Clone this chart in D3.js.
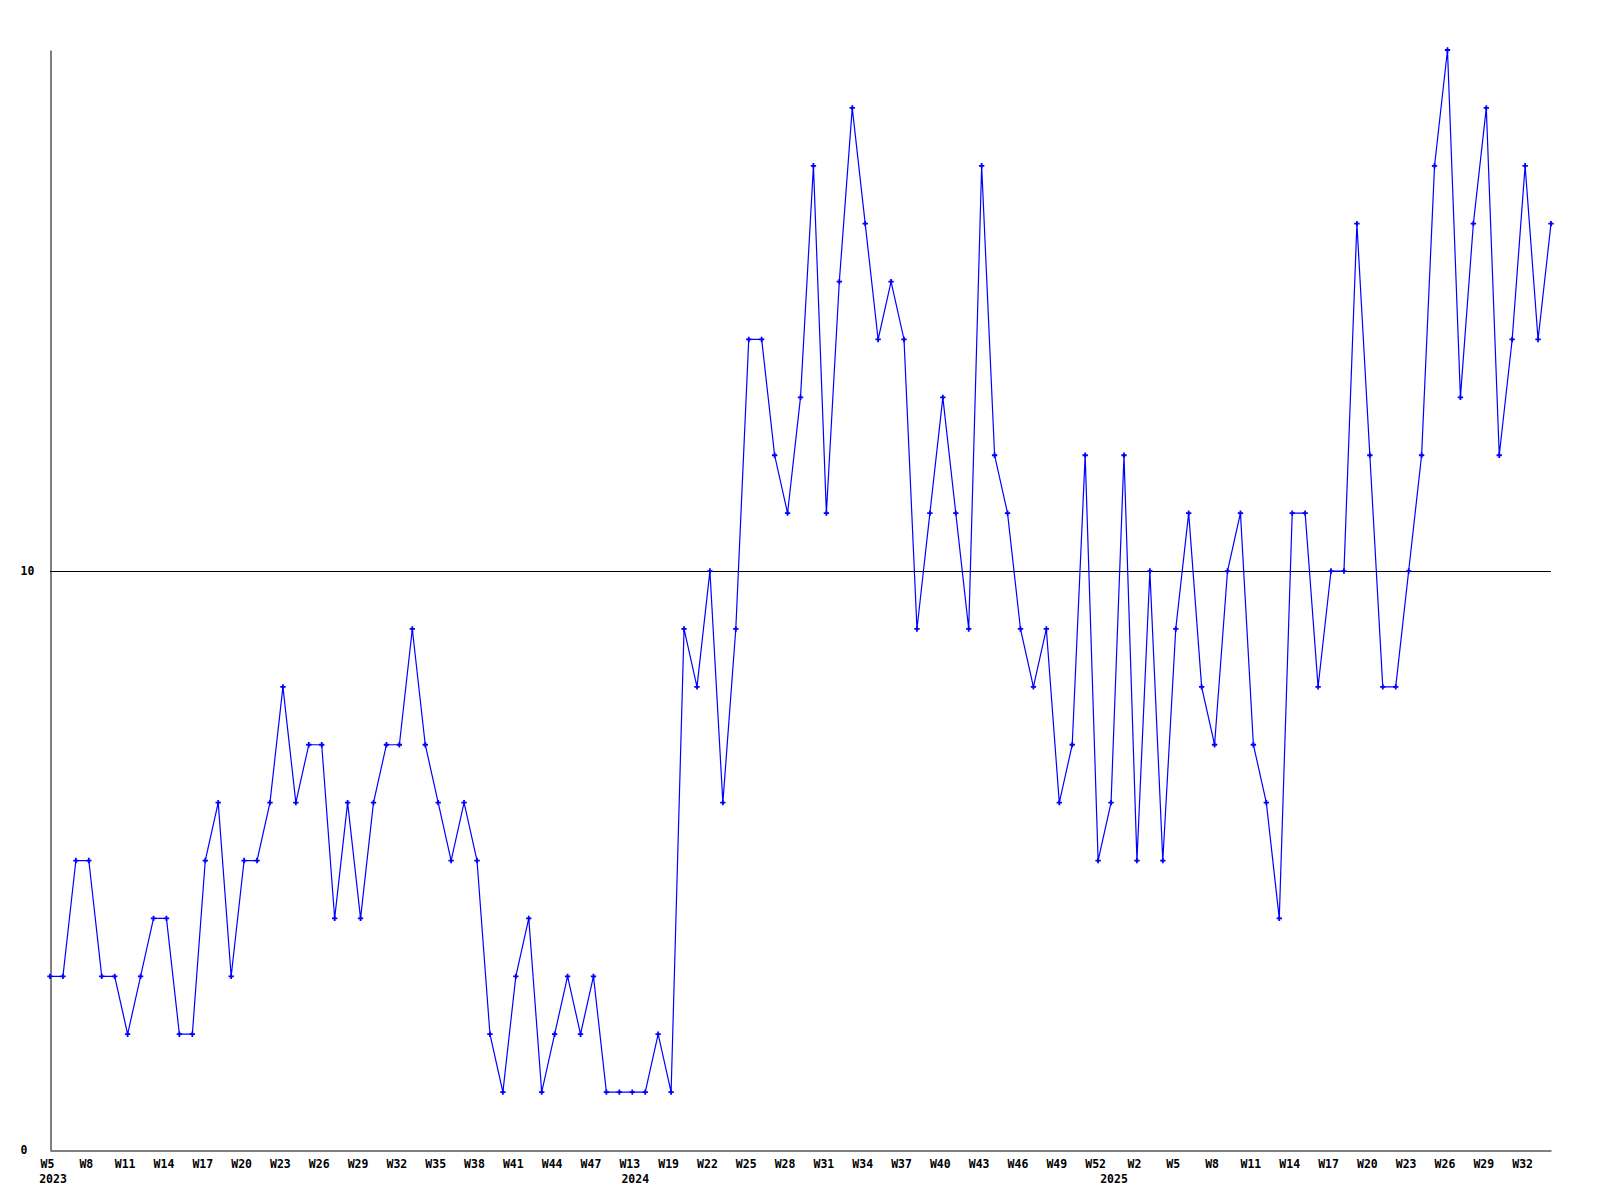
<!DOCTYPE html>
<html>
<head>
<meta charset="utf-8">
<script src="https://cdn.jsdelivr.net/npm/d3@7"></script>
<style>
  html, body { margin: 0; padding: 0; background: #ffffff; }
  svg { display: block; }
  text { font-family: "DejaVu Sans Mono", "Liberation Mono", monospace; font-weight: bold; font-size: 11.5px; fill: #000; }
</style>
</head>
<body>
<svg id="chart" width="1600" height="1200"></svg>
<script>
// ---- data (one value per week) ----
const values = [
  3, 3, 5, 5, 3, 3, 2, 3, 4, 4,
  2, 2, 5, 6, 3, 5, 5, 6, 8, 6,
  7, 7, 4, 6, 4, 6, 7, 7, 9, 7,
  6, 5, 6, 5, 2, 1, 3, 4, 1, 2,
  3, 2, 3, 1, 1, 1, 1, 2, 1, 9,
  8, 10, 6, 9, 14, 14, 12, 11, 13, 17,
  11, 15, 18, 16, 14, 15, 14, 9, 11, 13,
  11, 9, 17, 12, 11, 9, 8, 9, 6, 7,
  12, 5, 6, 12, 5, 10, 5, 9, 11, 8,
  7, 10, 11, 7, 6, 4, 11, 11, 8, 10,
  10, 16, 12, 8, 8, 10, 12, 17, 19, 13,
  16, 18, 12, 14, 17, 14, 16
];
// week tick labels, one every third point
const weekLabels = [
  "W5", "W8", "W11", "W14", "W17", "W20", "W23", "W26", "W29", "W32",
  "W35", "W38", "W41", "W44", "W47", "W13", "W19", "W22", "W25", "W28",
  "W31", "W34", "W37", "W40", "W43", "W46", "W49", "W52", "W2", "W5",
  "W8", "W11", "W14", "W17", "W20", "W23", "W26", "W29", "W32"
];
const labelStep = 3;
// year labels and the point index at which each year starts
const yearLabels = ["2023", "2024", "2025"];
const yearStart = [0, 45, 82];
// y axis
const yTicks = [0, 10];
const refLine = [10];
const yMax = 19;

// ---- layout ----
const plotLeft = 50, plotRight = 1551, plotTop = 50, plotBottom = 1150;
const svg = d3.select("#chart");

const x = d3.scaleLinear().domain([0, values.length - 1]).range([plotLeft, plotRight]);
const y = d3.scaleLinear().domain([0, yMax]).range([plotBottom, plotTop]);

// reference line at 10
svg.selectAll("line.ref").data(refLine).enter().append("line")
  .attr("class", "ref")
  .attr("x1", plotLeft).attr("x2", plotRight)
  .attr("y1", d => Math.round(y(d)) + 0.5).attr("y2", d => Math.round(y(d)) + 0.5)
  .attr("stroke", "#000").attr("stroke-width", 1);

// x axis
const tickIdx = weekLabels.map((d, i) => i * labelStep);
const xAxis = d3.axisBottom(x)
  .tickValues(tickIdx)
  .tickFormat((d, i) => weekLabels[i])
  .tickSize(0)
  .tickSizeOuter(0);
const gx = svg.append("g").attr("transform", `translate(0,${plotBottom + 0.5})`).call(xAxis);
gx.select(".domain").attr("stroke", "#000").attr("stroke-width", 1);
gx.selectAll("text")
  .attr("y", 17.5).attr("dy", 0).attr("dx", -3)
  .attr("fill", "#000")
  .style("font-family", "DejaVu Sans Mono").style("font-weight", "bold").style("font-size", "11.5px");

// year labels
svg.selectAll("text.year").data(yearLabels).enter().append("text")
  .attr("class", "year")
  .attr("x", (d, i) => x(yearStart[i]) + 3)
  .attr("y", plotBottom + 33)
  .attr("text-anchor", "middle")
  .text(d => d);

// y axis
const yAxis = d3.axisLeft(y).tickValues(yTicks).tickFormat(d3.format("d")).tickSize(0).tickSizeOuter(0);
const gy = svg.append("g").attr("transform", `translate(${plotLeft + 0.5},0)`).call(yAxis);
gy.select(".domain").attr("stroke", "#000").attr("stroke-width", 1);
gy.selectAll("text")
  .attr("x", -(plotLeft - 20)).attr("text-anchor", "start").attr("dy", "0.32em")
  .attr("fill", "#000")
  .style("font-family", "DejaVu Sans Mono").style("font-weight", "bold").style("font-size", "11.5px");

// data line
const line = d3.line().x((d, i) => x(i)).y(d => y(d));
svg.append("path")
  .datum(values)
  .attr("d", line)
  .attr("fill", "none")
  .attr("stroke", "#0000ff")
  .attr("stroke-width", 1.2);

// markers
const marker = d3.symbol().type(d3.symbolCross).size(16);
svg.selectAll("path.pt").data(values).enter().append("path")
  .attr("class", "pt")
  .attr("d", marker)
  .attr("transform", (d, i) => `translate(${x(i)},${y(d)})`)
  .attr("fill", "#0000ff");
</script>
</body>
</html>
